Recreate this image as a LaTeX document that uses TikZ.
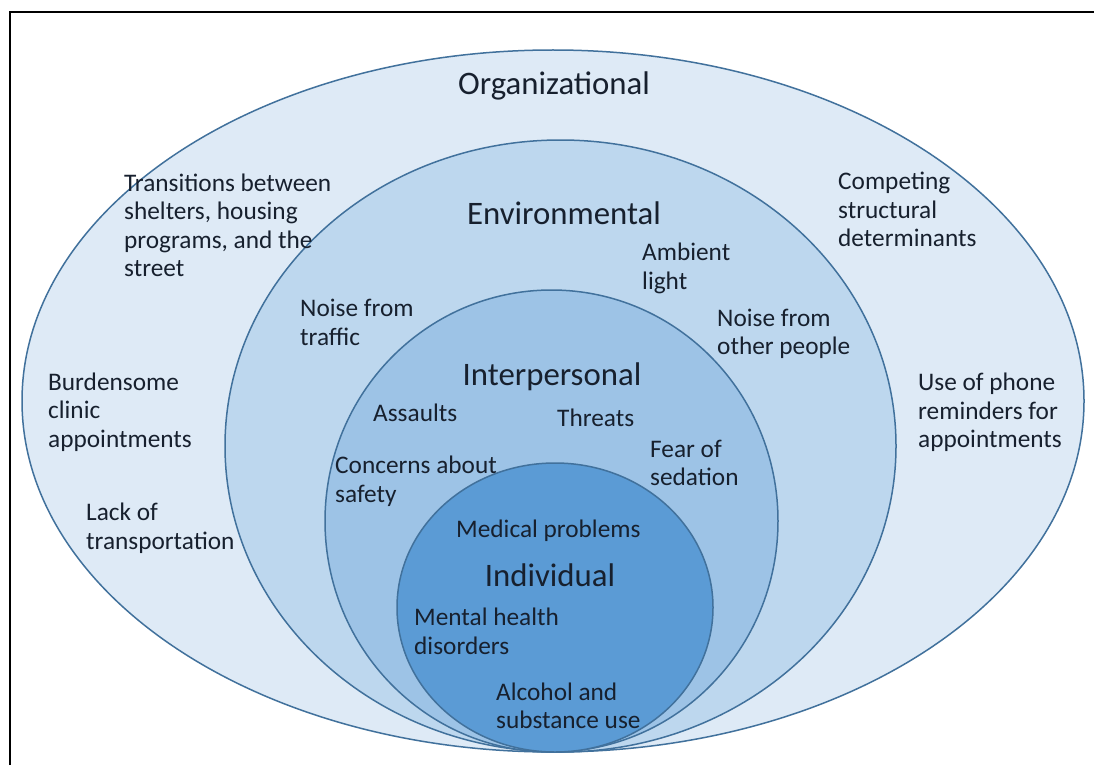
\documentclass[tikz,border=0pt]{standalone}
\usepackage{fontspec}
\setmainfont{Carlito}

\definecolor{orgfill}{HTML}{DEEAF6}
\definecolor{envfill}{HTML}{BDD7EE}
\definecolor{intfill}{HTML}{9DC3E6}
\definecolor{indfill}{HTML}{5B9BD5}
\definecolor{rim}{HTML}{41719C}
\definecolor{ink}{HTML}{17202E}

\newcommand{\bodyfont}{\fontsize{25.3}{28.5}\selectfont}
\newcommand{\headfont}{\fontsize{32.8}{36}\selectfont}

\tikzset{
    level/.style={draw=rim, line width=1.5pt},
    lbl/.style={text=ink, font=\bodyfont, align=left, inner sep=0pt, anchor=west},
    ttl/.style={text=ink, font=\headfont, inner sep=0pt}
}

\begin{document}
\begin{tikzpicture}[x=1pt, y=-1pt]
        \useasboundingbox (0,0) rectangle (1094,765);
        \fill[white] (0,0) rectangle (1094,765);
        \draw[line width=2.2pt] (10,765) -- (10,12) -- (1094,12);

        % nested levels, all touching at the bottom
        \draw[level, fill=orgfill] (553,401) ellipse (531 and 351);
        \draw[level, fill=envfill] (560.5,446) ellipse (335.5 and 306);
        \draw[level, fill=intfill] (551.5,521) ellipse (226.5 and 231);
        \draw[level, fill=indfill] (555,607.5) ellipse (158 and 144.5);

        % level titles
        \node[ttl] (org) at (554,86) {Organizational};
        \node[ttl] (env) at (564,213) {Environmental};
        \node[ttl] (inter) at (552,377) {Interpersonal};
        \node[ttl] (indiv) at (550,575) {Individual};

        % organizational
        \node[lbl] (transit) at (124,225.5) {Transitions between\\shelters, housing\\programs, and the\\street};
        \node[lbl] (compete) at (838,209.5) {Competing\\structural\\determinants};
        \node[lbl] (burden) at (48,412) {Burdensome\\clinic\\appointments};
        \node[lbl] (phone) at (918,412.5) {Use of phone\\reminders for\\appointments};
        \node[lbl] (transport) at (86,528) {Lack of\\transportation};

        % environmental
        \node[lbl] (light) at (642,268.5) {Ambient\\light};
        \node[lbl] (traffic) at (300,322.5) {Noise from\\traffic};
        \node[lbl] (people) at (717,334) {Noise from\\other people};

        % interpersonal
        \node[lbl] (assault) at (373,413) {Assaults};
        \node[lbl] (threat) at (557,418) {Threats};
        \node[lbl] (sedation) at (650,463) {Fear of\\sedation};
        \node[lbl] (safety) at (335,481) {Concerns about\\safety};

        % individual
        \node[lbl] (medical) at (456,531) {Medical problems};
        \node[lbl] (mental) at (414,631.5) {Mental health\\disorders};
        \node[lbl] (alcohol) at (496,706) {Alcohol and\\substance use};
    \end{tikzpicture}
\end{document}
